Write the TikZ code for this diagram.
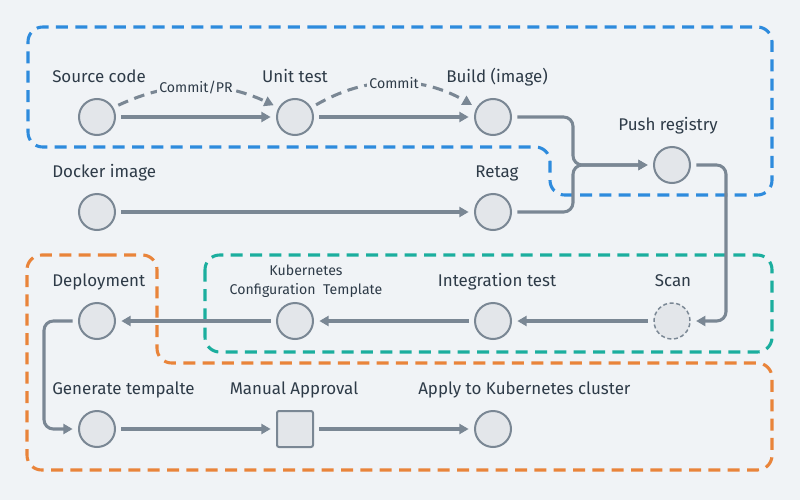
\documentclass[tikz,border=0pt]{standalone}
\usepackage{fontspec}
\setmainfont{Fira Sans}
\usetikzlibrary{arrows.meta}
\definecolor{bg}{HTML}{F0F3F6}
\definecolor{ln}{HTML}{7A8794}
\definecolor{nf}{HTML}{E3E6EA}
\definecolor{tx}{HTML}{2E3B48}
\definecolor{gblue}{HTML}{2E8BDD}
\definecolor{gteal}{HTML}{1BAE9E}
\definecolor{gorange}{HTML}{E9843A}

\begin{document}
\begin{tikzpicture}[x=0.75pt,y=-0.75pt,
 pt/.style={circle,draw=ln,fill=nf,line width=1.5pt,minimum size=27pt,inner sep=0pt},
 box/.style={rectangle,rounded corners=1.5pt,draw=ln,fill=nf,line width=1.5pt,minimum size=27pt,inner sep=0pt},
 lab/.style={text=tx,font=\fontsize{12.7}{14}\selectfont,anchor=base,inner sep=0pt},
 small/.style={text=tx,font=\fontsize{10.6}{12}\selectfont,fill=bg,inner sep=1.5pt},
 conn/.style={draw=ln,line width=2.3pt,-{Triangle[length=7pt,width=7.5pt]},shorten >=4pt,shorten <=4pt},
 dconn/.style={conn,dash pattern=on 8pt off 5pt},
 grp/.style={line width=2.3pt,dash pattern=on 9pt off 5.5pt,rounded corners=11pt}]
\fill[bg] (0,0) rectangle (800,500);

\draw[grp,gblue] (300,27) -- (772,27) -- (772,195) -- (550,195) -- (550,147) -- (28,147) -- (28,27) -- cycle;
\draw[grp,gorange] (90,255) -- (157,255) -- (157,363) -- (772,363) -- (772,470) -- (27,470) -- (27,255) -- cycle;
\draw[grp,gteal] (205,255) rectangle (772,352);

\node[pt] (src) at (97,117){};
\node[pt] (ut) at (295,117){};
\node[pt] (bi) at (493,117){};
\node[pt] (pr) at (672,165){};
\node[pt] (di) at (97,212){};
\node[pt] (rt) at (493,212){};
\node[pt] (dp) at (97,321){};
\node[pt] (kc) at (295,321){};
\node[pt] (it) at (493,321){};
\node[pt,dash pattern=on 3pt off 2pt,line width=1.1pt] (sc) at (672,321){};
\node[pt] (gt) at (97,429){};
\node[box] (ma) at (295,429){};
\node[pt] (ak) at (493,429){};

\node[lab,anchor=base west] at (52,82){Source code};
\node[lab] at (295,82){Unit test};
\node[lab] at (497,82){Build (image)};
\node[lab] at (668,130){Push registry};
\node[lab,anchor=base west] at (52,177){Docker image};
\node[lab] at (497,177){Retag};
\node[lab,anchor=base west] at (52,286){Deployment};
\node[lab,font=\fontsize{10.6}{12}\selectfont] at (306,275){Kubernetes};
\node[lab,font=\fontsize{10.6}{12}\selectfont] at (306,294){Configuration~~Template};
\node[lab] at (497,286){Integration test};
\node[lab] at (673,286){Scan};
\node[lab,anchor=base west] at (52,394){Generate tempalte};
\node[lab] at (294,394){Manual Approval};
\node[lab,anchor=base west] at (418,394){Apply to Kubernetes cluster};

\coordinate (m) at (573,165);
\coordinate (q) at (726,240);
\coordinate (r) at (44,375);

\draw[conn] (src) -- (ut);
\draw[conn] (ut) -- (bi);
\draw[dconn] (src.30) to[bend left=25] node[small]{Commit/PR} (ut.150);
\draw[dconn] (ut.30) to[bend left=30] node[small]{Commit} (bi.150);
\draw[conn] (di) -- (rt);
\draw[conn,rounded corners=7pt] (bi.east) -| (m) -- (pr.west);
\draw[conn,rounded corners=7pt] (rt.east) -| (m) -- (pr.west);
\draw[conn,rounded corners=7pt] (pr.east) -| (q) |- (sc.east);
\draw[conn] (sc) -- (it);
\draw[conn] (it) -- (kc);
\draw[conn] (kc) -- (dp);
\draw[conn,rounded corners=7pt] (dp.west) -| (r) |- (gt.west);
\draw[conn] (gt) -- (ma);
\draw[conn] (ma) -- (ak);
\end{tikzpicture}
\end{document}
